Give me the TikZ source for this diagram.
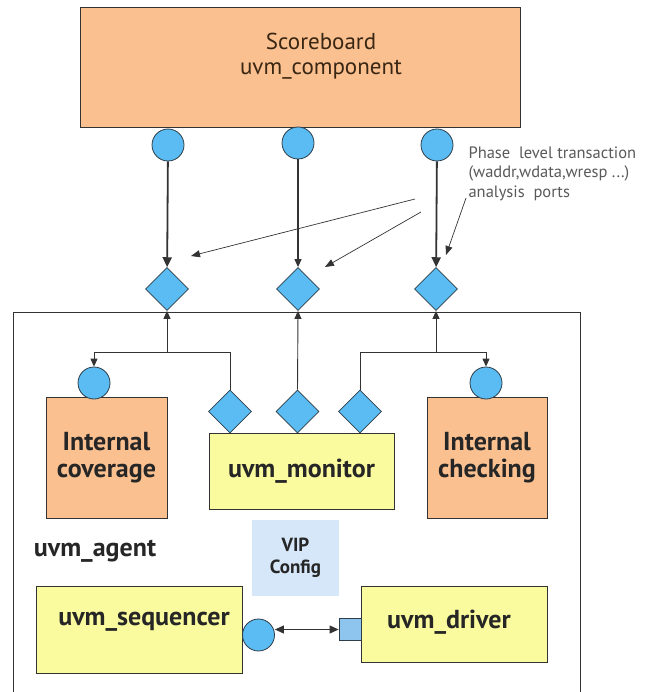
\documentclass[tikz,border=0pt]{standalone}
\usepackage{fontspec}
\setmainfont{PT Sans}
\usetikzlibrary{positioning}
\usetikzlibrary{arrows.meta}
\usetikzlibrary{shapes.geometric}
\definecolor{peach}{HTML}{FAC090}
\definecolor{lemon}{HTML}{FAFA9E}
\definecolor{portblue}{HTML}{5ABCF2}
\definecolor{portedge}{HTML}{2E3D48}
\definecolor{cfgblue}{HTML}{D6E7F9}
\definecolor{sqblue}{HTML}{8EC5EE}
\definecolor{inkgray}{HTML}{333333}
\tikzset{tips=proper}
\tikzset{%
    comp/.style={rectangle, draw=inkgray, fill=peach, line width=0.9pt, inner sep=0pt},
    unit/.style={rectangle, draw=inkgray, fill=lemon, line width=0.9pt, inner sep=0pt},
    port/.style={circle, draw=portedge, fill=portblue, line width=0.8pt, minimum size=32pt, inner sep=0pt},
    apport/.style={diamond, draw=portedge, fill=portblue, line width=0.8pt, minimum size=43pt, inner sep=0pt},
    boldtext/.style={font=\fontsize{26}{27}\selectfont\bfseries, text=black!85, align=center},
    arrow/.style={draw=inkgray, line width=0.9pt, {-Triangle[length=8pt, width=7pt]}},
    bigarrow/.style={draw=inkgray, line width=1.8pt, {-Triangle[length=10pt, width=9pt]}},
    hint/.style={draw=inkgray, line width=0.7pt, {-Triangle[length=9pt, width=7pt]}}
}

\begin{document}
\begin{tikzpicture}[x=1pt, y=-1pt]
    \useasboundingbox (0,0) rectangle (658,692);

    % scoreboard and its analysis ports
    \node[comp, minimum width=440pt, minimum height=120pt] (sb) at (300,67) {};
    \node[font=\fontsize{23}{25}\selectfont, text=black!70!brown, align=center] (sbtext) at (321,56) {Scoreboard\\uvm\_component};
    \node[port] (p1) at (168,145) {};
    \node[port] (p2) at (298,143) {};
    \node[port] (p3) at (437,145) {};
    \node[apport] (e1) at (167,289) {};
    \node[apport] (e2) at (298,289) {};
    \node[apport] (e3) at (436,289) {};
    \draw[bigarrow] (p1) -- (e1);
    \draw[arrow, line width=1.2pt] (p2) -- (e2);
    \draw[bigarrow] (p3) -- (e3);

    \node[font=\fontsize{16.5}{19.5}\selectfont, text=black!65, align=left, anchor=north west] (note) at (465,143)
        {Phase\ \ level transaction\\(waddr,wdata,wresp ...)\\analysis\ \ ports};
    \coordinate (n1) at (415,199);
    \coordinate (n2) at (421,212);
    \coordinate (n3) at (466,198);
    \coordinate (h1) at (191,256);
    \coordinate (h2) at (325,267);
    \coordinate (h3) at (446,255);
    \draw[hint] (n1) -- (h1);
    \draw[hint] (n2) -- (h2);
    \draw[hint] (n3) -- (h3);

    % agent
    \draw[inkgray, line width=0.9pt] (13,700) -- (13,312) -- (580,312) -- (580,700);
    \node[comp, minimum width=121pt, minimum height=121pt, boldtext] (cov) at (106.5,458) {Internal\\coverage};
    \node[comp, minimum width=120pt, minimum height=121pt, boldtext] (chk) at (487,458) {Internal\\checking};
    \node[port] (c1) at (94,383) {};
    \node[port] (c2) at (486,383) {};
    \node[unit, minimum width=185pt, minimum height=76pt, boldtext] (mon) at (301.5,471) {uvm\_monitor};
    \node[apport] (m1) at (230,411.5) {};
    \node[apport] (m2) at (297.5,411.5) {};
    \node[apport] (m3) at (360,411.5) {};

    \coordinate (jl) at (167,352);
    \coordinate (jr) at (436,352);
    \draw[arrow] (m1.north) |- (c1.north |- jl) -- (c1.north);
    \draw[arrow] (jl) -- (e1.south);
    \draw[arrow] (m2.north) -- (e2.south);
    \draw[arrow] (m3.north) |- (c2.north |- jr) -- (c2.north);
    \draw[arrow] (jr) -- (e3.south);

    \node[rectangle, fill=cfgblue, minimum width=87pt, minimum height=76pt, boldtext,
        font=\fontsize{19}{22}\selectfont\bfseries] (cfg) at (295.5,558) {VIP\\Config};
    \node[boldtext] (agent) at (95,551) {uvm\_agent};

    \node[unit, minimum width=206pt, minimum height=87pt] (seq) at (139,629.5) {};
    \node[boldtext] (seqtext) at (144,622) {uvm\_sequencer};
    \node[unit, minimum width=186pt, minimum height=76pt] (drv) at (454,624) {};
    \node[boldtext] (drvtext) at (449,622) {uvm\_driver};
    \node[port] (sp) at (258.5,635) {};
    \node[rectangle, draw=portedge, fill=sqblue, line width=0.8pt, minimum size=22pt, inner sep=0pt] (dq) at (350,629.5) {};
    \draw[arrow, {Triangle[length=9pt, width=8pt]}-{Triangle[length=9pt, width=8pt]}] (sp.east |- dq.west) -- (dq.west);
\end{tikzpicture}
\end{document}
